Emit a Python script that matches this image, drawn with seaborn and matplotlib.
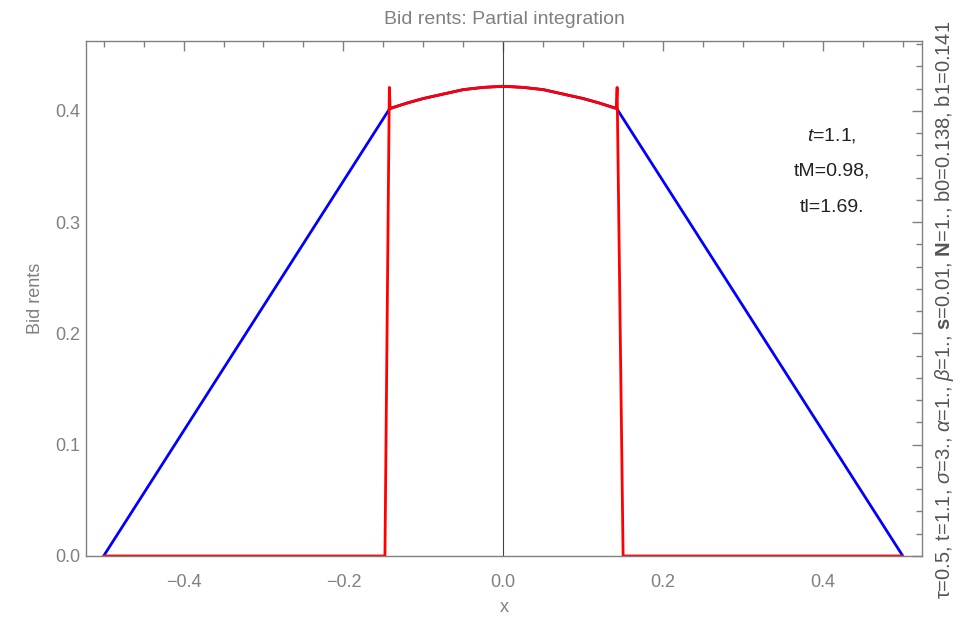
import numpy as np
import pandas as pd
import seaborn as sns
import matplotlib.pyplot as plt
from matplotlib.ticker import MultipleLocator

# data
# top arc shared by both curves
arc_x = [-0.142, -0.12, -0.1, -0.075, -0.05, -0.025, 0.0, 0.025, 0.05, 0.075, 0.1, 0.12, 0.142]
arc_y = [0.402, 0.407, 0.411, 0.415, 0.419, 0.421, 0.422, 0.421, 0.419, 0.415, 0.411, 0.407, 0.402]

blue_x = [-0.5] + arc_x + [0.5]
blue_y = [0.0] + arc_y + [0.0]

red_x = [-0.5, -0.148, -0.1425, -0.1415] + arc_x[1:-1] + [0.1415, 0.1425, 0.15, 0.5]
red_y = [0.0, 0.0, 0.421, 0.402] + arc_y[1:-1] + [0.402, 0.421, 0.0, 0.0]

info_lines = ["$\\mathit{t}$=1.1,", "tM=0.98,", "tl=1.69."]
side_text = ("τ=0.5, t=1.1, $\\mathit{σ}$=3., $\\mathit{α}$=1., $\\mathit{β}$=1., "
             "$\\mathbf{s}$=0.01, $\\mathbf{N}$=1., b0=0.138, b1=0.141")

blue_df = pd.DataFrame({"x": blue_x, "y": blue_y})
red_df = pd.DataFrame({"x": red_x, "y": red_y})

sns.set_style("white")
plt.rcParams["font.family"] = ["Liberation Sans", "DejaVu Sans"]
plt.rcParams["mathtext.fontset"] = "custom"
plt.rcParams["mathtext.rm"] = "Liberation Sans"
plt.rcParams["mathtext.it"] = "Liberation Sans:italic"
plt.rcParams["mathtext.bf"] = "Liberation Sans:bold"

fig = plt.figure(figsize=(9.69, 6.19), dpi=100)
ax = fig.add_axes([0.0888, 0.1018, 0.8627, 0.832])

ax.axvline(0, color="#444444", lw=0.8, zorder=1)
sns.lineplot(data=blue_df, x="x", y="y", sort=False, color="#0000ff", lw=2.0, ax=ax, zorder=2)
sns.lineplot(data=red_df, x="x", y="y", sort=False, color="#ff0000", lw=2.0, ax=ax, zorder=2.2)

ax.set_xlim(-0.522, 0.524)
ax.set_ylim(0, 0.4627)
ax.xaxis.set_major_locator(MultipleLocator(0.2))
ax.xaxis.set_minor_locator(MultipleLocator(0.05))
ax.yaxis.set_major_locator(MultipleLocator(0.1))
ax.yaxis.set_minor_locator(MultipleLocator(0.02))
ax.xaxis.set_major_formatter(lambda v, p: f"{v:.1f}".replace("-", "\u2212"))
ax.yaxis.set_major_formatter(lambda v, p: f"{v:.1f}")

grey = "#808080"
for s in ax.spines.values():
    s.set_color(grey)
    s.set_linewidth(1.0)
ax.tick_params(which="both", direction="in", top=True, right=True, color=grey,
               labelcolor=grey, labelsize=13, width=1.0)
ax.tick_params(which="major", length=7)
ax.tick_params(axis="x", which="major", pad=13)
ax.tick_params(axis="y", which="major", pad=4)
ax.tick_params(which="minor", length=4)

ax.set_title("Bid rents: Partial integration", color=grey, fontsize=14, pad=12)
ax.set_xlabel("x", color=grey, fontsize=13, labelpad=6)
ax.set_ylabel("Bid rents", color=grey, fontsize=13, labelpad=8)

for i, line in enumerate(info_lines):
    ax.text(0.411, 0.378 - i * 0.0325, line, ha="center", va="center", fontsize=14, color="#222222")

fig.text(0.975, 0.5, side_text, rotation=90, ha="center", va="center", fontsize=14.5, color="#555555")

plt.savefig("out.png", dpi=100)
